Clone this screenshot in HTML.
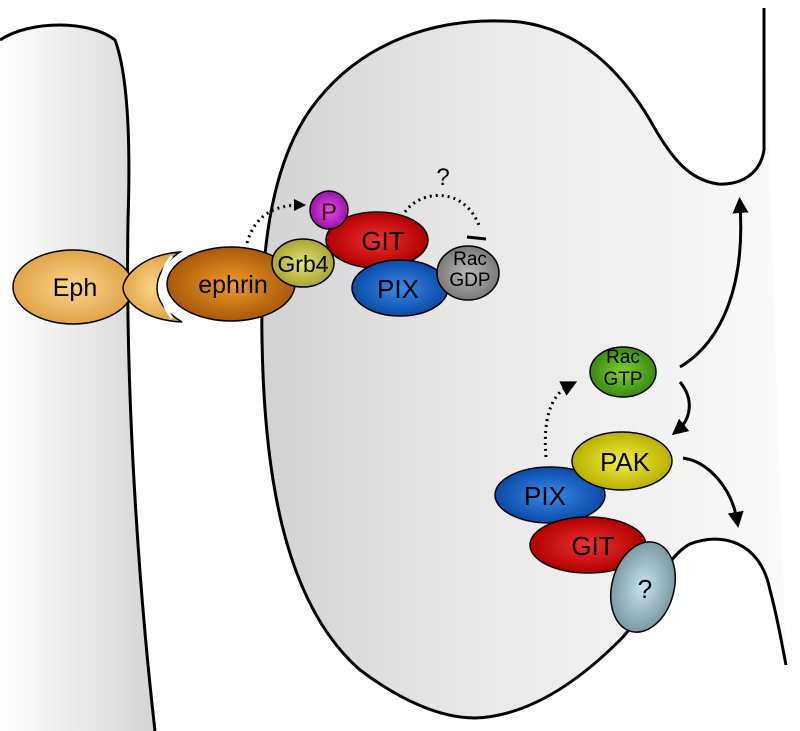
<!DOCTYPE html>
<html><head><meta charset="utf-8"><style>html,body{margin:0;padding:0;background:#fff}svg{display:block}text{font-family:"Liberation Sans",sans-serif;text-anchor:middle}</style></head><body>
<svg width="800" height="731" viewBox="0 0 800 731" xmlns="http://www.w3.org/2000/svg">
<defs>
<linearGradient id="gl" x1="0" x2="1"><stop offset="0" stop-color="#fff"/><stop offset="0.6" stop-color="#e6e6e6"/><stop offset="1" stop-color="#d4d4d4"/></linearGradient>
<linearGradient id="gr" x1="0" x2="1"><stop offset="0" stop-color="#d2d2d2"/><stop offset="0.4" stop-color="#e8e8e8"/><stop offset="1" stop-color="#fafafa"/></linearGradient>
<radialGradient id="o1"><stop offset="0" stop-color="#fbd58a"/><stop offset="1" stop-color="#e0a448"/></radialGradient>
<radialGradient id="o2"><stop offset="0" stop-color="#f09a2a"/><stop offset="1" stop-color="#a85a08"/></radialGradient>
<radialGradient id="y1"><stop offset="0" stop-color="#e4e47a"/><stop offset="1" stop-color="#a8a432"/></radialGradient>
<radialGradient id="r1"><stop offset="0" stop-color="#f03030"/><stop offset="1" stop-color="#b00000"/></radialGradient>
<radialGradient id="b1"><stop offset="0" stop-color="#3a8ae8"/><stop offset="1" stop-color="#0a4aa8"/></radialGradient>
<radialGradient id="g1"><stop offset="0" stop-color="#b8b8b8"/><stop offset="1" stop-color="#7a7a7a"/></radialGradient>
<radialGradient id="m1"><stop offset="0" stop-color="#e050f0"/><stop offset="1" stop-color="#9a10a8"/></radialGradient>
<radialGradient id="gg"><stop offset="0" stop-color="#80d030"/><stop offset="1" stop-color="#3a8a10"/></radialGradient>
<radialGradient id="yy"><stop offset="0" stop-color="#f4f040"/><stop offset="1" stop-color="#b8b000"/></radialGradient>
<radialGradient id="q1"><stop offset="0" stop-color="#c8e4ec"/><stop offset="1" stop-color="#7a9aa4"/></radialGradient>
<marker id="ar" markerWidth="12" markerHeight="12" refX="6" refY="6" orient="auto" markerUnits="userSpaceOnUse"><path d="M0,0 L12,6 L0,12z" fill="#000"/></marker>
<marker id="ab" markerWidth="16" markerHeight="16" refX="8" refY="8" orient="auto" markerUnits="userSpaceOnUse"><path d="M0,0 L16,8 L0,16z" fill="#000"/></marker>
</defs>
<!-- left cell -->
<path d="M0,40 C30,20 90,20 115,40 C130,80 130,160 128,220 C125,400 140,600 155,731 L0,731Z" fill="url(#gl)"/>
<path d="M0,40 C30,20 90,20 115,40 C130,80 130,160 128,220 C125,400 140,600 155,731" fill="none" stroke="#000" stroke-width="3"/>
<!-- right cell -->
<path id="rc" d="M764,8 L764,150 C760,175 740,185 718,184 C690,180 672,160 650,120 C620,70 580,30 520,22 C440,15 360,40 310,110 C275,160 260,240 262,340 C264,460 280,600 360,670 C400,700 440,718 475,718 C530,716 580,680 620,640 C650,610 660,560 690,544 C720,532 760,540 770,590 C778,620 782,645 786,665" fill="url(#gr)" stroke="#000" stroke-width="3"/>
<!-- Eph -->
<ellipse cx="73" cy="287" rx="60" ry="37" fill="url(#o1)" stroke="#000" stroke-width="1.5"/>
<text x="75" y="296" font-size="25">Eph</text>
<path d="M180,252 C140,255 123,278 123,288 C123,298 140,320 182,322 C162,310 157,298 157,288 C157,278 162,264 180,252Z" fill="url(#o1)" stroke="#000" stroke-width="1.5"/>
<ellipse cx="231" cy="284" rx="64" ry="37" fill="url(#o2)" stroke="#000" stroke-width="1.5"/>
<path d="M172,256 C158,272 158,300 172,318" fill="none" stroke="#fff" stroke-width="3"/>
<text x="233" y="293" font-size="25">ephrin</text>
<!-- complex -->
<ellipse cx="377" cy="240" rx="51" ry="28" fill="url(#r1)" stroke="#000" stroke-width="1.5"/>
<text x="383" y="250" font-size="26">GIT</text>
<ellipse cx="400" cy="288" rx="48" ry="28" fill="url(#b1)" stroke="#000" stroke-width="1.5"/>
<text x="398" y="298" font-size="26">PIX</text>
<ellipse cx="468" cy="273" rx="31" ry="27" fill="url(#g1)" stroke="#000" stroke-width="1.5"/>
<text x="470" y="265" font-size="19">Rac</text><text x="470" y="286" font-size="19">GDP</text>
<ellipse cx="303" cy="263" rx="31" ry="24" fill="url(#y1)" stroke="#000" stroke-width="1.5"/>
<text x="303" y="272" font-size="23">Grb4</text>
<circle cx="329" cy="210" r="19" fill="url(#m1)" stroke="#000" stroke-width="1.5"/>
<text x="329" y="220" font-size="24" fill="#400">P</text>
<path d="M247,243 C255,215 275,205 300,205" fill="none" stroke="#000" stroke-width="3" stroke-dasharray="2,4" marker-end="url(#ar)"/>
<path d="M405,212 C420,190 465,185 480,228" fill="none" stroke="#000" stroke-width="3" stroke-dasharray="2,4"/>
<line x1="467" y1="237" x2="486" y2="239" stroke="#000" stroke-width="3"/>
<text x="443" y="185" font-size="24">?</text>
<!-- lower complex -->
<ellipse cx="550" cy="495" rx="55" ry="28" fill="url(#b1)" stroke="#000" stroke-width="1.5"/>
<ellipse cx="622" cy="461" rx="50" ry="29" fill="url(#yy)" stroke="#000" stroke-width="1.5"/>
<text x="625" y="471" font-size="26">PAK</text>
<text x="545" y="505" font-size="26">PIX</text>
<ellipse cx="588" cy="545" rx="58" ry="28" fill="url(#r1)" stroke="#000" stroke-width="1.5"/>
<text x="593" y="555" font-size="26">GIT</text>
<ellipse cx="643" cy="587" rx="31" ry="46" fill="url(#q1)" stroke="#000" stroke-width="1.5" transform="rotate(15 643 587)"/>
<text x="645" y="598" font-size="26">?</text>
<ellipse cx="623" cy="372" rx="33" ry="25" fill="url(#gg)" stroke="#000" stroke-width="1.5"/>
<text x="623" y="363" font-size="19">Rac</text><text x="623" y="385" font-size="19">GTP</text>
<path d="M546,457 C543,420 550,395 570,385" fill="none" stroke="#000" stroke-width="3" stroke-dasharray="2,4" marker-end="url(#ab)"/>
<path d="M680,367 C725,340 745,280 740,205" fill="none" stroke="#000" stroke-width="3" marker-end="url(#ab)"/>
<path d="M680,382 C695,400 690,420 678,430" fill="none" stroke="#000" stroke-width="3" marker-end="url(#ab)"/>
<path d="M683,458 C710,462 732,490 737,520" fill="none" stroke="#000" stroke-width="3" marker-end="url(#ab)"/>
</svg>
</body></html>
